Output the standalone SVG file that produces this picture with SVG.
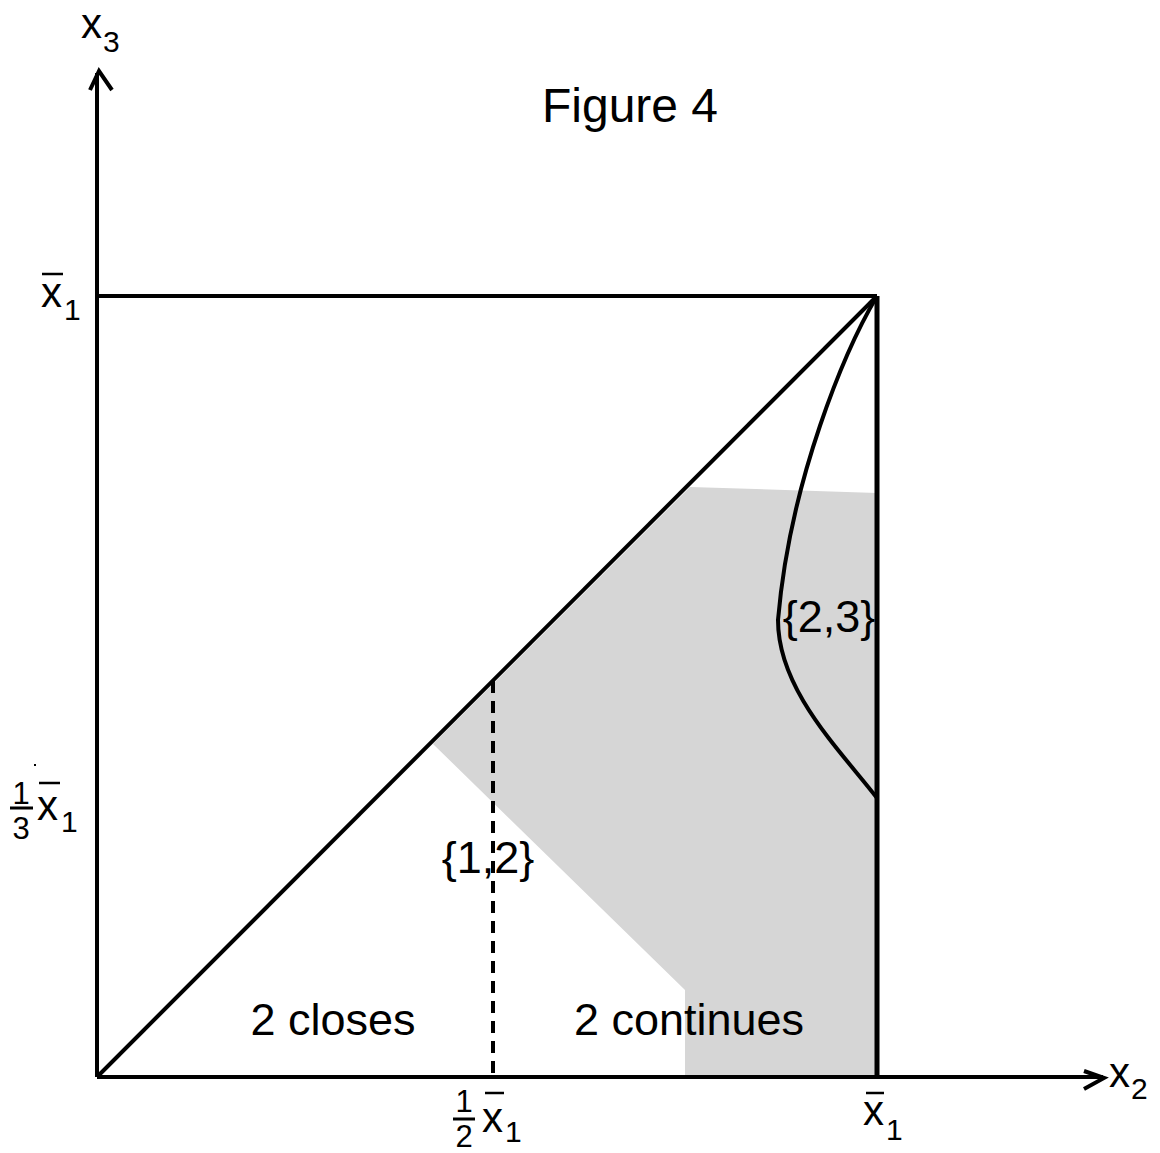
<svg xmlns="http://www.w3.org/2000/svg" width="1160" height="1153" viewBox="0 0 1160 1153">
<style>
text{font-family:"Liberation Sans",Arial,sans-serif;fill:#000}
.lbl{font-size:45px}
.var{font-size:42px}
.sub{font-size:30px}
.frac{font-size:31px}
.ln{stroke:#000;stroke-width:4;fill:none}
.bar{stroke:#000;stroke-width:2.5}
</style>
<rect width="1160" height="1153" fill="#fff"/>
<g id="region">
<polygon points="433,744 690,487 877,493 877,1077 685,1077 685,990" fill="#d6d6d6"/>
</g>
<g id="connectors">
<line class="ln" x1="97" y1="1077" x2="97" y2="73"/>
<polyline class="ln" points="90,90 99,71 112,90"/>
<line class="ln" x1="97" y1="1077" x2="1103" y2="1077"/>
<polyline class="ln" points="1084,1071 1104,1078 1084,1089"/>
<line class="ln" x1="97" y1="296" x2="877" y2="296"/>
<line class="ln" x1="97" y1="1077" x2="877" y2="296"/>
<line x1="877" y1="296" x2="877" y2="1077" stroke="#000" stroke-width="5"/>
<line x1="493" y1="681" x2="493" y2="1077" stroke="#000" stroke-width="4" stroke-dasharray="12,8"/>
<path class="ln" d="M877,296 C845,350 790,480 778,620 C778,690 840,750 877,798"/>
</g>
<g id="labels">
<text x="630" y="122" font-size="48" text-anchor="middle">Figure 4</text>
<text class="var" x="81" y="38">x</text><text class="sub" x="103" y="52">3</text>
<text class="var" x="41" y="307">x</text><line class="bar" x1="42" y1="274" x2="63" y2="274"/><text class="sub" x="64" y="320">1</text>
<text class="frac" x="21" y="804" text-anchor="middle">1</text><line x1="10" y1="808" x2="33" y2="808" stroke="#000" stroke-width="3"/><text class="frac" x="21" y="839" text-anchor="middle">3</text>
<rect x="34" y="764" width="2" height="2" fill="#000"/>
<text class="var" x="37" y="820">x</text><line class="bar" x1="39" y1="783" x2="60" y2="783"/><text class="sub" x="61" y="832">1</text>
<text class="frac" x="464" y="1112" text-anchor="middle">1</text><line x1="453" y1="1119" x2="475" y2="1119" stroke="#000" stroke-width="3"/><text class="frac" x="464" y="1147" text-anchor="middle">2</text>
<text class="var" x="482" y="1132">x</text><line class="bar" x1="485" y1="1093" x2="504" y2="1093"/><text class="sub" x="505" y="1142">1</text>
<text class="var" x="863" y="1125">x</text><line class="bar" x1="866" y1="1093" x2="884" y2="1093"/><text class="sub" x="886" y="1140">1</text>
<text class="var" x="1109" y="1087">x</text><text class="sub" x="1131" y="1099">2</text>
<text class="lbl" x="488" y="873" text-anchor="middle">{1,2}</text>
<text class="lbl" x="829" y="632" text-anchor="middle">{2,3}</text>
<text class="lbl" x="333" y="1035" text-anchor="middle">2 closes</text>
<text class="lbl" x="689" y="1035" text-anchor="middle">2 continues</text>
</g>
</svg>
